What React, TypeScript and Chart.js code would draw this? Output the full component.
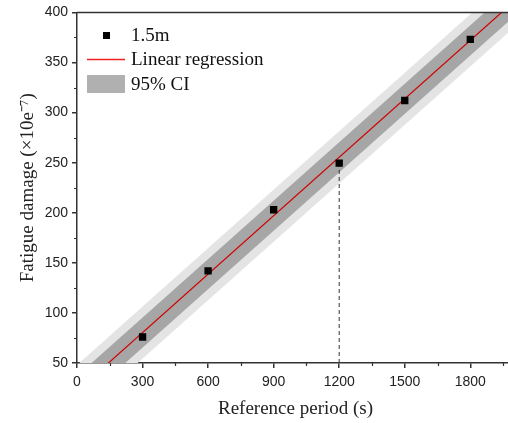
import React, { useEffect, useRef } from "react";
import { Chart, registerables } from "chart.js";

Chart.register(...registerables);

// Observed data (1.5m)
const periods = [300, 600, 900, 1200, 1500, 1800];
const damage = [76, 142, 203, 249.5, 312, 373];

// Linear regression line and bands, read at the x-range ends
const fitX = [0, 2000];
const fitY = [22, 411];
const ciLower = [7, 396];
const ciUpper = [37, 426];
const piLower = [-4, 385];
const piUpper = [48, 437];

// Dashed reference drop line
const dropX = [1200, 1200];
const dropY = [50, 249.5];

const xTicksMajor = [0, 300, 600, 900, 1200, 1500, 1800];
const xTicksMinor = [150, 450, 750, 1050, 1350, 1650, 1950];
const yTicksMinor = [75, 125, 175, 225, 275, 325, 375];

const legendLabels = ["1.5m", "Linear regression", "95% CI"];

const SERIF = "'Liberation Serif', 'Times New Roman', serif";
const SANS = "'Liberation Sans', Arial, sans-serif";
const AXIS = "#333333";
const LINE_RED = "#d00000";
const DARK_BAND = "#a6a6a6";
const LIGHT_BAND = "#e4e4e4";

const pts = (xs: number[], ys: number[]) => xs.map((x, i) => ({ x, y: ys[i] }));

const decorPlugin = {
  id: "decor",
  afterDraw(chart: any) {
    const { ctx, chartArea, scales } = chart;
    const xs = scales.x;
    const ys = scales.y;
    ctx.save();
    // top frame line
    ctx.strokeStyle = AXIS;
    ctx.lineWidth = 1.5;
    ctx.beginPath();
    ctx.moveTo(chartArea.left, chartArea.top);
    ctx.lineTo(chartArea.right, chartArea.top);
    ctx.lineTo(chartArea.right, chartArea.bottom);
    ctx.stroke();
    // minor ticks
    ctx.lineWidth = 1.2;
    ctx.beginPath();
    xTicksMinor.forEach((v) => {
      const px = Math.round(xs.getPixelForValue(v)) + 0.5;
      ctx.moveTo(px, chartArea.bottom);
      ctx.lineTo(px, chartArea.bottom + 3);
    });
    yTicksMinor.forEach((v) => {
      const py = Math.round(ys.getPixelForValue(v)) + 0.5;
      ctx.moveTo(chartArea.left, py);
      ctx.lineTo(chartArea.left - 3, py);
    });
    ctx.stroke();

    // legend
    const lx0 = 87;
    const lx1 = 125;
    const tx = 131;
    const rows = [35, 59.5, 84];
    ctx.fillStyle = "#000";
    ctx.fillRect(103, rows[0] - 3, 7, 7);
    ctx.strokeStyle = "#f02020";
    ctx.lineWidth = 1.5;
    ctx.beginPath();
    ctx.moveTo(lx0, rows[1]);
    ctx.lineTo(lx1, rows[1]);
    ctx.stroke();
    ctx.fillStyle = "#b0b0b0";
    ctx.fillRect(lx0, 75, lx1 - lx0, 18);
    ctx.fillStyle = "#111";
    ctx.font = `19px ${SERIF}`;
    ctx.textBaseline = "middle";
    ctx.textAlign = "left";
    legendLabels.forEach((t, i) => ctx.fillText(t, tx, rows[i] + 1));
    ctx.restore();
  },
};

export default function App() {
  const ref = useRef<HTMLCanvasElement | null>(null);

  useEffect(() => {
    document.body.style.margin = "0";
    const canvas = ref.current;
    if (!canvas) return;
    const chart = new Chart(canvas, {
      type: "scatter",
      data: {
        datasets: [
          {
            type: "scatter",
            label: legendLabels[0],
            data: pts(periods, damage),
            pointStyle: "rect",
            pointRadius: 5.2,
            backgroundColor: "#000",
            borderColor: "#000",
            borderWidth: 0,
            order: 0,
          },
          {
            type: "line",
            label: "drop",
            data: pts(dropX, dropY),
            borderColor: "#333",
            borderWidth: 1,
            borderDash: [4, 3],
            pointRadius: 0,
            fill: false,
            order: 1,
          },
          {
            type: "line",
            label: legendLabels[1],
            data: pts(fitX, fitY),
            borderColor: LINE_RED,
            borderWidth: 1.2,
            pointRadius: 0,
            fill: false,
            order: 1,
          },
          {
            type: "line",
            label: "ci-low",
            data: pts(fitX, ciLower),
            borderWidth: 0,
            borderColor: "rgba(0,0,0,0)",
            pointRadius: 0,
            fill: false,
            order: 2,
          },
          {
            type: "line",
            label: legendLabels[2],
            data: pts(fitX, ciUpper),
            borderWidth: 0,
            borderColor: "rgba(0,0,0,0)",
            backgroundColor: DARK_BAND,
            pointRadius: 0,
            fill: "-1",
            order: 2,
          },
          {
            type: "line",
            label: "pi-low",
            data: pts(fitX, piLower),
            borderWidth: 0,
            borderColor: "rgba(0,0,0,0)",
            pointRadius: 0,
            fill: false,
            order: 3,
          },
          {
            type: "line",
            label: "pi-up",
            data: pts(fitX, piUpper),
            borderWidth: 0,
            borderColor: "rgba(0,0,0,0)",
            backgroundColor: LIGHT_BAND,
            pointRadius: 0,
            fill: "-1",
            order: 3,
          },
        ],
      },
      options: {
        animation: false,
        responsive: false,
        maintainAspectRatio: false,
        layout: { padding: { top: 12, right: 6, left: 0, bottom: 0 } },
        plugins: {
          legend: { display: false },
          tooltip: { enabled: false },
        },
        scales: {
          x: {
            type: "linear",
            min: 0,
            max: 2000,
            afterFit: (s: any) => {
              s.height = 60;
            },
            afterBuildTicks: (s: any) => {
              s.ticks = xTicksMajor.map((v) => ({ value: v }));
            },
            border: { display: true, color: AXIS, width: 1.5 },
            grid: {
              display: true,
              drawOnChartArea: false,
              drawTicks: true,
              tickLength: 5,
              color: AXIS,
              lineWidth: 1.5,
            },
            ticks: {
              padding: 6,
              color: "#222",
              font: { family: SANS, size: 14 },
              maxRotation: 0,
              callback: (v: any) => String(v),
            },
            title: {
              display: true,
              text: "Reference period (s)",
              color: "#222",
              font: { family: SERIF, size: 19 },
              padding: { top: 0, bottom: 3 },
            },
          },
          y: {
            type: "linear",
            min: 50,
            max: 400,
            afterFit: (s: any) => {
              s.width = 77;
            },
            border: { display: true, color: AXIS, width: 1.5 },
            grid: {
              display: true,
              drawOnChartArea: false,
              drawTicks: true,
              tickLength: 5,
              color: AXIS,
              lineWidth: 1.5,
            },
            ticks: {
              stepSize: 50,
              padding: 4,
              color: "#222",
              font: { family: SANS, size: 14 },
              callback: (v: any) => String(v),
            },
            title: {
              display: true,
              text: "Fatigue damage (×10e⁻⁷)",
              color: "#222",
              font: { family: SERIF, size: 19 },
              padding: { top: 17, bottom: 0 },
            },
          },
        },
      },
      plugins: [decorPlugin],
    });
    return () => chart.destroy();
  }, []);

  return (
    <div
      style={{
        position: "fixed",
        left: 0,
        top: 0,
        width: 508,
        height: 423,
        overflow: "hidden",
        background: "#fff",
      }}
    >
      <canvas ref={ref} width={520} height={423} style={{ width: 520, height: 423, display: "block" }} />
    </div>
  );
}
